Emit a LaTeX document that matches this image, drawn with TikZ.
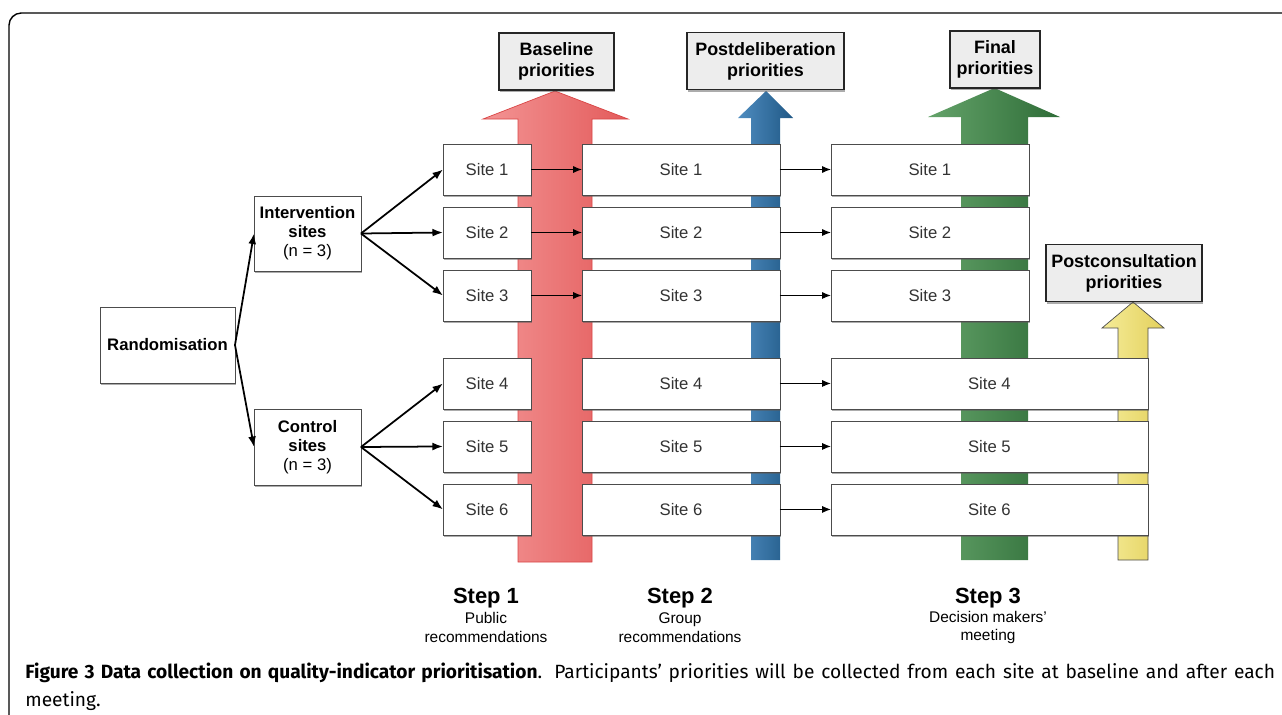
\documentclass[tikz,border=0pt]{standalone}
\usepackage{fontspec}
\setmainfont{Liberation Sans}
\newfontfamily\capfont{Fira Sans}
\usetikzlibrary{arrows.meta,positioning,shadows}
\definecolor{redL}{HTML}{F39494}
\definecolor{redR}{HTML}{E35B5B}
\definecolor{redD}{HTML}{D94545}
\definecolor{bluL}{HTML}{4F8DC0}
\definecolor{bluR}{HTML}{1F5785}
\definecolor{grnL}{HTML}{64A36A}
\definecolor{grnR}{HTML}{2E6C37}
\definecolor{ylwL}{HTML}{F5EC98}
\definecolor{ylwR}{HTML}{E3D05C}

\begin{document}
\begin{tikzpicture}[x=0.02cm,y=-0.02cm,>=Latex]
  \path[use as bounding box,clip] (0,0) rectangle (1282,714);
  \tikzstyle{box}=[draw=black!70,fill=white,align=center,inner sep=0pt,outer sep=0pt,
    font=\fontsize{9.5}{10.8}\selectfont,drop shadow={shadow xshift=0.5pt,shadow yshift=-1.4pt,fill=black!65}]
  \tikzstyle{site}=[box,text=black!80,minimum height=1.02cm]
  \tikzstyle{prio}=[draw=black!85,line width=0.9pt,fill=black!7,align=center,inner sep=0pt,
    font=\bfseries\fontsize{10.2}{12}\selectfont,minimum height=1.14cm,
    drop shadow={shadow xshift=0.5pt,shadow yshift=-1.4pt,fill=black!65}]
  \tikzstyle{steplbl}=[font=\bfseries\fontsize{12.5}{14}\selectfont,inner sep=0pt]
  \tikzstyle{stepsub}=[font=\fontsize{8.8}{10.8}\selectfont,align=center,inner sep=0pt]
  \tikzstyle{split}=[line width=1pt,-{Latex[length=6pt,width=4.5pt]}]
  \tikzstyle{pass}=[line width=0.6pt,-{Latex[length=5pt,width=4pt]}]

  % frame
  \draw[line width=0.8pt,rounded corners=7pt] (9,760) -- (9,13) -- (1320,13);

  % big arrows
  \path[draw=redD,left color=redL,right color=redR]
    (518,562) -- (518,119) -- (483,119) -- (555,91) -- (628,119) -- (592,119) -- (592,562) -- cycle;
  \path[left color=bluL,right color=bluR]
    (751,560) -- (751,118) -- (738,118) -- (766,91) -- (793,118) -- (780,118) -- (780,560) -- cycle;
  \path[left color=grnL,right color=grnR]
    (961,560) -- (961,117) -- (928,117) -- (994.5,88) -- (1060,117) -- (1028,117) -- (1028,560) -- cycle;
  \path[draw=black!70,left color=ylwL,right color=ylwR]
    (1118,560) -- (1118,328) -- (1102,328) -- (1133,302) -- (1164,328) -- (1148,328) -- (1148,560) -- cycle;

  % priorities
  \node[prio,minimum width=2.3cm] (base) at (556.5,61.5) {Baseline\\priorities};
  \node[prio,minimum width=3.14cm] (delib) at (765.5,61) {Postdeliberation\\priorities};
  \node[prio,minimum width=1.8cm] (final) at (995,59.5) {Final\\priorities};
  \node[prio,minimum width=3.12cm] (cons) at (1124,273) {Postconsultation\\priorities};

  % allocation
  \node[box,minimum width=2.7cm,minimum height=1.52cm] (rand) at (167.5,345) {\textbf{Randomisation}};
  \node[box,minimum width=2.14cm,minimum height=1.5cm] (inter) at (307.5,233.5) {\textbf{Intervention}\\\textbf{sites}\\(n = 3)};
  \node[box,minimum width=2.14cm,minimum height=1.52cm] (ctrl) at (307.5,447) {\textbf{Control}\\\textbf{sites}\\(n = 3)};

  % step 1 sites
  \node[site,minimum width=1.76cm] (s1) at (487,169.5) {Site 1};
  \node[site,minimum width=1.76cm,below=0.24cm of s1] (s2) {Site 2};
  \node[site,minimum width=1.76cm,below=0.24cm of s2] (s3) {Site 3};
  \node[site,minimum width=1.76cm,below=0.74cm of s3] (s4) {Site 4};
  \node[site,minimum width=1.76cm,below=0.24cm of s4] (s5) {Site 5};
  \node[site,minimum width=1.76cm,below=0.24cm of s5] (s6) {Site 6};

  % step 2 sites
  \node[site,minimum width=3.96cm,right=1.02cm of s1] (t1) {Site 1};
  \node[site,minimum width=3.96cm,right=1.02cm of s2] (t2) {Site 2};
  \node[site,minimum width=3.96cm,right=1.02cm of s3] (t3) {Site 3};
  \node[site,minimum width=3.96cm,right=1.02cm of s4] (t4) {Site 4};
  \node[site,minimum width=3.96cm,right=1.02cm of s5] (t5) {Site 5};
  \node[site,minimum width=3.96cm,right=1.02cm of s6] (t6) {Site 6};

  % step 3 sites
  \node[site,minimum width=3.96cm,right=1.02cm of t1] (u1) {Site 1};
  \node[site,minimum width=3.96cm,right=1.02cm of t2] (u2) {Site 2};
  \node[site,minimum width=3.96cm,right=1.02cm of t3] (u3) {Site 3};
  \node[site,minimum width=6.34cm,right=1.02cm of t4] (u4) {Site 4};
  \node[site,minimum width=6.34cm,right=1.02cm of t5] (u5) {Site 5};
  \node[site,minimum width=6.34cm,right=1.02cm of t6] (u6) {Site 6};

  \draw[split] (rand.east) -- (inter.west);
  \draw[split] (rand.east) -- (ctrl.west);
  \draw[split] (inter.east) -- (s1.west);
  \draw[split] (inter.east) -- (s2.west);
  \draw[split] (inter.east) -- (s3.west);
  \draw[split] (ctrl.east) -- (s4.west);
  \draw[split] (ctrl.east) -- (s5.west);
  \draw[split] (ctrl.east) -- (s6.west);

  \draw[pass] (s1) -- (t1);
  \draw[pass] (s2) -- (t2);
  \draw[pass] (s3) -- (t3);
  \draw[pass] (t1) -- (u1);
  \draw[pass] (t2) -- (u2);
  \draw[pass] (t3) -- (u3);
  \draw[pass] (t4) -- (u4);
  \draw[pass] (t5) -- (u5);
  \draw[pass] (t6) -- (u6);

  % steps
  \node[steplbl] (step1) at (486,598) {Step 1};
  \node[stepsub] (sub1) at (486,627.5) {Public\\recommendations};
  \node[steplbl] (step2) at (680,598) {Step 2};
  \node[stepsub] (sub2) at (680,627.5) {Group\\recommendations};
  \node[steplbl] (step3) at (988,598) {Step 3};
  \node[stepsub] (sub3) at (988,627.5) {Decision makers'\\meeting};

  % caption
  \node[anchor=north west,inner sep=0pt,text width=25cm,align=justify,
    font=\capfont\fontsize{10.9}{15.8}\selectfont] (cap) at (25,663)
    {\textbf{Figure 3 Data collection on quality-indicator prioritisation}. Participants’ priorities will be collected from each site at baseline and after each\linebreak meeting.};
\end{tikzpicture}
\end{document}
